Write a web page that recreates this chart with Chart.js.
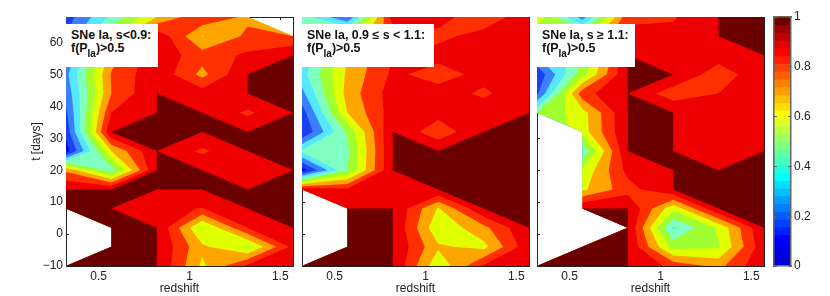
<html>

  <head>
    <title>SNe Ia contours</title>
    <script src="https://cdn.jsdelivr.net/npm/chart.js@4"></script>

    <style>
      body{
        margin:0;
        background:white;
        font-family:"Liberation Sans";
      }
      canvas{
        position:absolute;
        top:0;
      }
      .note{
        position:absolute;
        top:24px;
        height:43px;
        background:white;
        color:#111;
        font-weight:bold;
        font-size:12.4px;
        line-height:13.4px;
        padding:5px 0 0 5px;
        box-sizing:border-box;
        white-space:nowrap;
      }
      .note span{
        font-size:10px;
        position:relative;
        top:5px;
      }
    </style>
  </head>

  <body>
    <canvas id="panel1" width="296" height="296" style="left:0px"></canvas>
    <canvas id="panel2" width="236" height="296" style="left:296px"></canvas>
    <canvas id="panel3" width="236" height="296" style="left:531px"></canvas>
    <canvas id="cbar" width="60" height="296" style="left:770px"></canvas>

    <div class="note" style="left:66px;width:92px">SNe Ia, s&lt;0.9:<br>f(P<span>Ia</span>)&gt;0.5</div>
    <div class="note" style="left:302px;width:132px">SNe Ia, 0.9 &le; s &lt; 1.1:<br>f(P<span>Ia</span>)&gt;0.5</div>
    <div class="note" style="left:537px;width:98px">SNe Ia, s &ge; 1.1:<br>f(P<span>Ia</span>)&gt;0.5</div>
  </body>

  <script>

    var redshift = [0.32, 0.57, 0.82, 1.07, 1.32, 1.57];
    var days = [68, 62, 56, 50, 44, 38, 32, 26, 20, 14, 8, 2, -4, -10];
    var xTicks = [0.5, 1, 1.5];
    var yTicks = [-10, 0, 10, 20, 30, 40, 50, 60];
    var barTicks = [0, 0.2, 0.4, 0.6, 0.8, 1];
    var N = NaN;

    // one row per entry of days, one column per entry of redshift
    var lowS = [
      [0.15, 0.42, 0.70, 0.88, 0.78, N],
      [0.20, 0.60, 0.98, 0.695, 0.82, 0.80],
      [0.20, 0.75, 0.97, 0.84, 0.92, 1],
      [0.27, 0.81, 0.98, 0.77, 1, 1],
      [0.23, 0.80, 1, 0.95, 1, 1],
      [0.18, 0.90, 1, 1, 0.88, 1],
      [0.13, 1, 1, 1, 1, 1],
      [0.05, 0.70, 1, 0.88, 1, 1],
      [0.78, 0.45, 1, 1, 0.93, 1],
      [1, 1, 1, 1, 1, 1],
      [1, 1, 0.93, 0.895, 1, 1],
      [N, 1, 1, 0.59, 0.90, 1],
      [N, 1, 1, 0.72, 0.58, 0.93],
      [1, 1, 1, 0.68, 0.92, 0.95]
    ];
    var midS = [
      [0.45, 0.20, 0.95, 0.93, 0.85, 0.95],
      [0.35, 0.60, 0.85, 0.88, 0.93, 0.93],
      [0.30, 0.70, 0.90, 0.93, 0.94, 0.95],
      [0.36, 0.72, 0.92, 0.86, 0.93, 0.95],
      [0.27, 0.74, 0.95, 0.94, 0.885, 0.96],
      [0.15, 0.70, 0.95, 0.94, 0.95, 1],
      [0.10, 0.52, 1, 0.83, 1, 1],
      [0.42, 0.48, 1, 1, 1, 1],
      [0.05, 0.50, 1, 1, 1, 1],
      [0.95, 0.92, 0.93, 1, 1, 1],
      [N, 1, 1, 0.69, 1, 1],
      [N, 1, 1, 0.62, 0.77, 1],
      [N, 1, 1, 0.715, 0.67, 0.97],
      [1, 1, 1, 0.62, 0.91, 0.96]
    ];
    var highS = [
      [0.68, 0.25, 0.87, 0.89, 1, 1],
      [0.50, 0.60, 0.94, 0.93, 1, 1],
      [0.30, 0.45, 1, 0.94, 0.95, 1],
      [0.12, 0.57, 1, 1, 0.84, 0.98],
      [0.18, 0.86, 1, 0.84, 0.90, 0.96],
      [0.50, 0.66, 1, 1, 0.95, 0.96],
      [N, 0.65, 1, 1, 0.95, 0.96],
      [N, 0.42, 1, 1, 0.96, 1],
      [N, 0.62, 0.93, 1, 1, 1],
      [N, 0.68, 0.86, 1, 1, 1],
      [N, 1, 1, 0.63, 1, 1],
      [N, N, 1, 0.385, 0.62, 1],
      [N, 1, 1, 0.56, 0.59, 0.97],
      [1, 1, 1, 0.87, 0.77, 0.99]
    ];

    var levels = [0, 0.1, 0.2, 0.3, 0.4, 0.5, 0.6, 0.7, 0.8, 0.9, 1];
    var levelColors = ["#0010d8", "#1a40f0", "#3a80ff", "#55e8ff", "#7fffc0", "#a0ff30", "#e0ff00", "#ffa500", "#ff3000", "#ee0000", "#6b0000"];

    // colorbar, bottom to top
    var barColors = ["#0000d0", "#0000e0", "#0000f0", "#0000ff", "#0020ff", "#0040ff", "#0060ff", "#0080ff",
      "#009fff", "#00bfff", "#00dfff", "#00ffff", "#20ffdf", "#40ffbf", "#60ff9f", "#80ff80",
      "#9fff60", "#bfff40", "#dfff20", "#ffff00", "#ffdf00", "#ffbf00", "#ff9f00", "#ff8000",
      "#ff6000", "#ff4000", "#ff2000", "#ff0000", "#df0000", "#bf0000", "#9f0000", "#700000"];

    var textColor = "#222";
    var tickFont = {family: "Liberation Sans", size: 12};

    function crossing(a, b, level){
      var t = (level-a.z)/(b.z-a.z);
      return {x: a.x+t*(b.x-a.x), y: a.y+t*(b.y-a.y)};
    }

    // walk round a cell and keep the part at or above the level
    function clipCell(corners, level){
      var n = corners.length;
      if (n == 4){
        var h0 = corners[0].z >= level;
        var h1 = corners[1].z >= level;
        var h2 = corners[2].z >= level;
        var h3 = corners[3].z >= level;
        var mean = (corners[0].z+corners[1].z+corners[2].z+corners[3].z)/4;
        // saddle with a low centre: the two high corners stay apart
        if (h0 == h2 && h1 == h3 && h0 != h1 && mean < level){
          var polys = [];
          for (var j=h0?0:1;j<4;j+=2){
            var prev = corners[(j+3)%4];
            var next = corners[(j+1)%4];
            polys.push([crossing(prev, corners[j], level), corners[j], crossing(corners[j], next, level)]);
          }
          return polys;
        }
      }
      var out = [];
      for (var i=0;i<n;i++){
        var a = corners[i];
        var b = corners[(i+1)%n];
        if (a.z >= level){
          out.push(a);
        }
        if ((a.z >= level) != (b.z >= level)){
          out.push(crossing(a, b, level));
        }
      }
      return [out];
    }

    var contourPlugin = {
      id: 'contour',
      beforeDatasetsDraw: function(chart, args, opts){
        var grid = opts.grid;
        if (!grid) return;
        var ctx = chart.ctx;
        var sx = chart.scales.x;
        var sy = chart.scales.y;
        ctx.save();
        ctx.beginPath();
        ctx.rect(chart.chartArea.left, chart.chartArea.top, chart.chartArea.width, chart.chartArea.height);
        ctx.clip();
        for (var l=0;l<levels.length;l++){
          ctx.beginPath();
          for (var r=0;r<days.length-1;r++){
            for (var c=0;c<redshift.length-1;c++){
              var cell = [[r,c],[r,c+1],[r+1,c+1],[r+1,c]];
              var corners = [];
              for (var k=0;k<4;k++){
                var z = grid[cell[k][0]][cell[k][1]];
                if (!isNaN(z)){
                  corners.push({x: sx.getPixelForValue(redshift[cell[k][1]]), y: sy.getPixelForValue(days[cell[k][0]]), z: z});
                }
              }
              if (corners.length < 3) continue;
              var polys = clipCell(corners, levels[l]);
              for (var q=0;q<polys.length;q++){
                var poly = polys[q];
                if (poly.length < 3) continue;
                ctx.moveTo(poly[0].x, poly[0].y);
                for (var p=1;p<poly.length;p++){
                  ctx.lineTo(poly[p].x, poly[p].y);
                }
                ctx.closePath();
              }
            }
          }
          ctx.fillStyle = levelColors[l];
          ctx.fill();
        }
        ctx.restore();
      }
    };

    function boxScale(position, min, max, ticks, size, showLabels, title, z, color, width){
      var opts = {
        type: 'linear',
        position: position,
        min: min,
        max: max,
        border: {display: true, color: color, width: width, z: z},
        grid: {drawOnChartArea: false, drawTicks: true, tickLength: -3, color: color, z: z},
        ticks: {
          display: showLabels,
          autoSkip: false,
          maxRotation: 0,
          color: textColor,
          font: tickFont,
          padding: 6,
          callback: function(v){
            return v < 0 ? "\u2212" + Math.abs(v) : String(v);
          }
        },
        afterBuildTicks: function(scale){
          scale.ticks = ticks.map(function(v){ return {value: v}; });
        },
        afterFit: function(scale){
          if (position == 'left' || position == 'right'){
            scale.width = size;
          } else {
            scale.height = size;
          }
        }
      };
      if (title){
        opts.title = {display: true, text: title.text, color: textColor, font: tickFont, padding: title.padding};
      }
      return opts;
    }

    function panel(id, grid, leftSize, showY){
      var points = [];
      for (var r=0;r<days.length;r++){
        for (var c=0;c<redshift.length;c++){
          if (!isNaN(grid[r][c])){
            points.push({x: redshift[c], y: days[r], z: grid[r][c]});
          }
        }
      }
      new Chart(document.getElementById(id), {
        type: 'scatter',
        data: {datasets: [{data: points, pointRadius: 0, showLine: false}]},
        plugins: [contourPlugin],
        options: {
          responsive: false,
          animation: false,
          layout: {padding: {top: 17, right: 3, left: 0, bottom: 0}},
          plugins: {legend: {display: false}, tooltip: {enabled: false}, contour: {grid: grid}},
          scales: {
            x: boxScale('bottom', 0.32, 1.57, xTicks, 30, true, {text: 'redshift', padding: {top: 0, bottom: 0}}, 0, textColor, 1),
            y: boxScale('left', -10, 68, yTicks, leftSize, showY, showY ? {text: 't [days]', padding: {top: 29, bottom: 0}} : null, 0, textColor, 1),
            xTop: boxScale('top', 0.32, 1.57, xTicks, 0, false, null, 0, textColor, 1),
            yRight: boxScale('right', -10, 68, yTicks, 0, false, null, 0, textColor, 1)
          }
        }
      });
    }

    panel('panel1', lowS, 66, true);
    panel('panel2', midS, 6, false);
    panel('panel3', highS, 6, false);

    function colorbar(){
      var sets = [];
      // first dataset ends up on top, so the top colour goes first
      for (var i=barColors.length-1;i>=0;i--){
        sets.push({data: [[i/barColors.length, 1]], backgroundColor: barColors[i], borderWidth: 0, yAxisID: 'y', barPercentage: 1, categoryPercentage: 1, grouped: false});
      }
      new Chart(document.getElementById('cbar'), {
        type: 'bar',
        data: {labels: [''], datasets: sets},
        options: {
          responsive: false,
          animation: false,
          layout: {padding: {top: 17, right: 0, left: 0, bottom: 0}},
          plugins: {legend: {display: false}, tooltip: {enabled: false}},
          scales: {
            x: {position: 'bottom', ticks: {display: false}, border: {display: true, color: "#666", width: 1.5, z: 1}, grid: {display: false}, afterFit: function(s){ s.height = 30; }},
            xTop: {type: 'category', labels: [''], position: 'top', ticks: {display: false}, border: {display: true, color: "#666", width: 1.5, z: 1}, grid: {display: false}, afterFit: function(s){ s.height = 0; }},
            y: boxScale('right', 0, 1, barTicks, 39, true, null, 1, "#666", 1.5),
            yLeft: boxScale('left', 0, 1, barTicks, 4, false, null, 1, "#666", 1.5)
          }
        }
      });
    }

    colorbar();
  </script>

</html>
